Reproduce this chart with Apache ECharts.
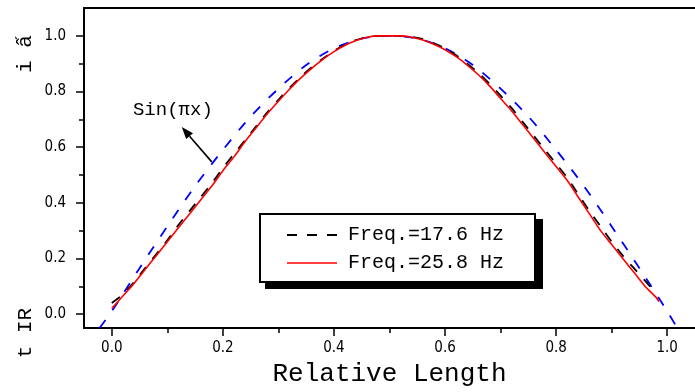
<!DOCTYPE html>
<html><head><meta charset="utf-8">
<script src="https://cdn.jsdelivr.net/npm/echarts@6/dist/echarts.min.js"></script>
<style>html,body{margin:0;padding:0;background:#fff}#c{width:695px;height:392px}</style>
</head><body><div id="c"></div>
<script>
// ---- data ----
const xMajor = [0, 0.2, 0.4, 0.6, 0.8, 1.0];
const xMinor = [0.1, 0.3, 0.5, 0.7, 0.9];
const yMajor = [0, 0.2, 0.4, 0.6, 0.8, 1.0];
const yMinor = [0.1, 0.3, 0.5, 0.7, 0.9];

const sinX = [-0.022, 0.00, 0.05, 0.10, 0.15, 0.20, 0.25, 0.30, 0.35, 0.40, 0.45, 0.50, 0.55, 0.60, 0.65, 0.70, 0.75, 0.80, 0.85, 0.90, 0.95, 1.00, 1.018];
const sinY = [-0.05, 0.01, 0.165, 0.315, 0.46, 0.59, 0.71, 0.81, 0.895, 0.955, 0.99, 1.0, 0.99, 0.955, 0.895, 0.81, 0.71, 0.59, 0.46, 0.315, 0.165, 0.01, -0.05];

const f176X = [0.00,0.02,0.04,0.06,0.08,0.10,0.12,0.14,0.16,0.18,0.20,0.22,0.24,0.26,0.28,0.30,0.32,0.34,0.36,0.38,0.40,0.42,0.44,0.46,0.48,0.50,0.52,0.54,0.56,0.58,0.60,0.62,0.64,0.66,0.68,0.70,0.72,0.74,0.76,0.78,0.80,0.82,0.84,0.86,0.88,0.90,0.92,0.94,0.96,0.975];
const f176Y = [0.04,0.07,0.115,0.165,0.215,0.265,0.32,0.37,0.42,0.47,0.525,0.575,0.625,0.675,0.725,0.77,0.813,0.852,0.887,0.918,0.946,0.968,0.985,0.996,1.0,1.0,1.0,0.996,0.988,0.973,0.955,0.93,0.90,0.867,0.828,0.785,0.74,0.69,0.64,0.59,0.54,0.49,0.43,0.37,0.315,0.26,0.21,0.165,0.12,0.086];

const f258X = [0.00,0.02,0.04,0.06,0.08,0.10,0.12,0.14,0.16,0.18,0.20,0.22,0.24,0.26,0.28,0.30,0.32,0.34,0.36,0.38,0.40,0.42,0.44,0.46,0.48,0.50,0.52,0.54,0.56,0.58,0.60,0.62,0.64,0.66,0.68,0.70,0.72,0.74,0.76,0.78,0.80,0.82,0.84,0.86,0.88,0.90,0.92,0.94,0.96,0.98,0.985];
const f258Y = [0.02,0.065,0.11,0.16,0.21,0.26,0.31,0.36,0.41,0.46,0.515,0.565,0.62,0.67,0.72,0.765,0.808,0.848,0.883,0.915,0.943,0.966,0.983,0.995,1.0,1.0,1.0,0.995,0.985,0.97,0.95,0.925,0.895,0.86,0.82,0.775,0.73,0.68,0.63,0.58,0.53,0.48,0.42,0.36,0.30,0.25,0.20,0.15,0.10,0.06,0.045];

const legendNames = ['Freq.=17.6 Hz', 'Freq.=25.8 Hz'];
const xTitle = 'Relative Length';
const yTitleBottom = 't IR';
const yTitleTop = 'i ấ';
const annoText = 'Sin(πx)';
const annoTextPos = [0.110, 0.733];
const annoTail = [0.180, 0.547];
const annoTip = [0.126, 0.672];

// ---- chart ----
const pairs = (xs, ys) => xs.map((x, i) => [x, ys[i]]);
const tickFont = "'Liberation Sans Narrow','DejaVu Sans Condensed','Liberation Sans',sans-serif";
const mono = "'Liberation Mono','DejaVu Sans Mono',monospace";
const XMIN = -0.05, XMAX = 1.05, YMIN = -0.05, YMAX = 1.1;

const chart = echarts.init(document.getElementById('c'), null, {renderer: 'canvas'});
chart.setOption({
  animation: false,
  backgroundColor: '#fff',
  grid: {left: 84, top: 8, width: 618, height: 320, containLabel: false},
  xAxis: [
    {type: 'value', min: XMIN, max: XMAX, position: 'bottom',
     axisLine: {show: true, onZero: false, lineStyle: {color: '#000', width: 2}},
     axisTick: {show: true, customValues: xMajor, length: 8, lineStyle: {color: '#000', width: 1.5}},
     axisLabel: {show: true, customValues: xMajor, margin: 13, formatter: v => v.toFixed(1),
                 fontFamily: tickFont, fontSize: 15, color: '#000'},
     splitLine: {show: false},
     name: xTitle, nameLocation: 'middle', nameGap: 33,
     nameTextStyle: {fontFamily: mono, fontSize: 26, color: '#000'}},
    {type: 'value', min: XMIN, max: XMAX, position: 'bottom',
     axisLine: {show: false, onZero: false},
     axisTick: {show: true, customValues: xMinor, length: 5, lineStyle: {color: '#000', width: 1.5}},
     axisLabel: {show: false}, splitLine: {show: false}},
    {type: 'value', min: XMIN, max: XMAX, position: 'top',
     axisLine: {show: true, onZero: false, lineStyle: {color: '#000', width: 2}},
     axisTick: {show: false}, axisLabel: {show: false}, splitLine: {show: false}}
  ],
  yAxis: [
    {type: 'value', min: YMIN, max: YMAX, position: 'left',
     axisLine: {show: true, onZero: false, lineStyle: {color: '#000', width: 2}},
     axisTick: {show: true, customValues: yMajor, length: 8, lineStyle: {color: '#000', width: 1.5}},
     axisLabel: {show: true, customValues: yMajor, margin: 18, formatter: v => v.toFixed(1),
                 fontFamily: tickFont, fontSize: 15, color: '#000'},
     splitLine: {show: false}},
    {type: 'value', min: YMIN, max: YMAX, position: 'left',
     axisLine: {show: false, onZero: false},
     axisTick: {show: true, customValues: yMinor, length: 5, lineStyle: {color: '#000', width: 1.5}},
     axisLabel: {show: false}, splitLine: {show: false}}
  ],
  series: [
    {name: 'sin', type: 'line', xAxisIndex: 0, yAxisIndex: 0, data: pairs(sinX, sinY),
     showSymbol: false, smooth: 0.3, lineStyle: {color: '#0000ff', width: 1.8, type: [10, 12]}},
    {name: legendNames[0], type: 'line', xAxisIndex: 0, yAxisIndex: 0, data: pairs(f176X, f176Y),
     showSymbol: false, smooth: 0.25, lineStyle: {color: '#000', width: 1.8, type: [10, 10]}},
    {name: legendNames[1], type: 'line', xAxisIndex: 0, yAxisIndex: 0, data: pairs(f258X, f258Y),
     showSymbol: false, smooth: 0.25, lineStyle: {color: '#ff0000', width: 1.6}}
  ]
});

const P = p => chart.convertToPixel({gridIndex: 0}, p);
const tp = P(annoTextPos), ta = P(annoTail), ti = P(annoTip);
const ang = Math.atan2(ti[1] - ta[1], ti[0] - ta[0]);
const hl = 12, hw = 4.5;
const base = [ti[0] - hl * Math.cos(ang), ti[1] - hl * Math.sin(ang)];
const head = [ti,
  [base[0] + hw * Math.sin(ang), base[1] - hw * Math.cos(ang)],
  [base[0] - hw * Math.sin(ang), base[1] + hw * Math.cos(ang)]];

chart.setOption({
  graphic: [
    {type: 'text', x: 25, y: 333, rotation: Math.PI / 2,
     style: {text: yTitleBottom, font: '21px ' + mono, fill: '#000', align: 'center', verticalAlign: 'middle'}},
    {type: 'text', x: 25, y: 54, rotation: Math.PI / 2,
     style: {text: yTitleTop, font: '21px ' + mono, fill: '#000', align: 'center', verticalAlign: 'middle'}},
    {type: 'text', x: tp[0], y: tp[1],
     style: {text: annoText, font: '19px ' + mono, fill: '#000', align: 'center', verticalAlign: 'middle'}},
    {type: 'line', shape: {x1: ta[0], y1: ta[1], x2: base[0], y2: base[1]},
     style: {stroke: '#000', lineWidth: 1.6}},
    {type: 'polygon', shape: {points: head}, style: {fill: '#000'}},
    {type: 'rect', shape: {x: 265, y: 219, width: 278, height: 70}, style: {fill: '#000'}},
    {type: 'rect', shape: {x: 260, y: 214, width: 275, height: 68}, style: {fill: '#fff', stroke: '#000', lineWidth: 2}},
    {type: 'line', shape: {x1: 287, y1: 235, x2: 337, y2: 235}, style: {stroke: '#000', lineWidth: 2, lineDash: [10, 10]}},
    {type: 'text', x: 348, y: 235, style: {text: legendNames[0], font: '20px ' + mono, fill: '#000', align: 'left', verticalAlign: 'middle'}},
    {type: 'line', shape: {x1: 287, y1: 263, x2: 337, y2: 263}, style: {stroke: '#ff0000', lineWidth: 1.6}},
    {type: 'text', x: 348, y: 263, style: {text: legendNames[1], font: '20px ' + mono, fill: '#000', align: 'left', verticalAlign: 'middle'}}
  ]
});
</script></body></html>
